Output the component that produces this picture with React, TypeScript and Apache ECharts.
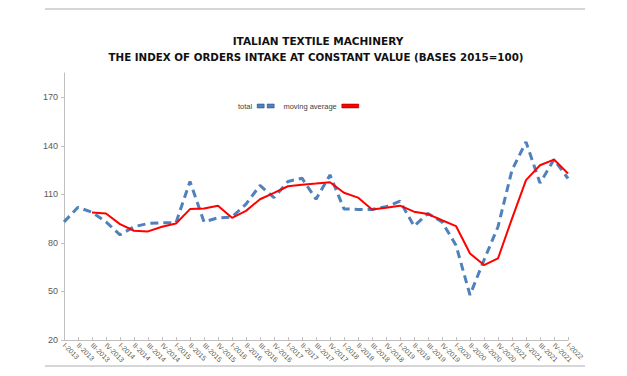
import React, { useEffect, useRef } from "react";
import * as echarts from "echarts";

const years = [2013, 2014, 2015, 2016, 2017, 2018, 2019, 2020, 2021];
const quarters = ["I", "II", "III", "IV"];
const categories: string[] = [];
years.forEach((y) => quarters.forEach((q) => categories.push(`${q}-${y}`)));
categories.push("I-2022");

const total = [
  93, 102, 99, 93, 85, 90, 92, 92.5, 92.5, 118, 93, 95.5, 96, 104, 115.5, 108,
  118, 120, 107, 122, 101, 100.7, 100.7, 102.3, 105.8, 90.4, 98.2, 93, 78.6,
  47.8, 69.4, 90, 125, 142.4, 117, 131.5, 119.8,
];

const movingAverage = [
  null, null, 98.8, 98.2, 91.6, 87.5, 87.1, 90, 92, 100.9, 101.3, 103, 95.5,
  99.8, 107, 110.9, 115, 116, 116.7, 117.5, 111, 108, 100.7, 101.7, 103, 99.3,
  97.8, 94, 90.4, 73.5, 66.3, 70.4, 95, 118.8, 128, 131.5, 122.9,
];

const yTicks = [20, 50, 80, 110, 140, 170];

const titleLine1 = "ITALIAN TEXTILE MACHINERY";
const titleLine2 = "THE INDEX OF ORDERS INTAKE AT CONSTANT VALUE (BASES 2015=100)";

export default function App() {
  const ref = useRef<HTMLDivElement>(null);
  useEffect(() => {
    if (!ref.current) return;
    const chart = echarts.init(ref.current, null, { renderer: "svg" });
    const font = "'Liberation Sans', Arial, sans-serif";
    chart.setOption({
      animation: false,
      backgroundColor: "#ffffff",
      textStyle: { fontFamily: font },
      grid: { left: 64, right: 59, top: 73, bottom: 36, containLabel: false },
      legend: {
        left: 233,
        top: 97,
        align: "right",
        itemWidth: 17,
        itemHeight: 4,
        itemGap: 9,
        textStyle: { fontSize: 7.5, color: "#404040", fontFamily: font },
        data: [
          {
            name: "total",
            icon: "path://M0,0h7v4h-7z M10,0h7v4h-7z",
            itemStyle: { color: "#4f81bd", borderColor: "#1f3f6f", borderWidth: 0.5 },
          },
          {
            name: "moving average",
            icon: "rect",
            itemStyle: { color: "#ff0000", borderColor: "#7a0000", borderWidth: 0.5 },
          },
        ],
      },
      xAxis: {
        type: "category",
        data: categories,
        boundaryGap: false,
        axisLine: { lineStyle: { color: "#bfbfbf", width: 1 } },
        axisTick: { inside: true, length: 3, interval: 0, lineStyle: { color: "#bfbfbf" } },
        axisLabel: {
          interval: 0,
          rotate: -45,
          fontSize: 7,
          color: "#595959",
          margin: 4,
          fontFamily: font,
        },
        splitLine: { show: false },
      },
      yAxis: {
        type: "value",
        min: 20,
        max: 185,
        axisLine: { show: true, lineStyle: { color: "#bfbfbf", width: 1 } },
        axisTick: { show: true, length: 3, customValues: yTicks, lineStyle: { color: "#bfbfbf" } },
        axisLabel: {
          customValues: yTicks,
          fontSize: 9,
          color: "#595959",
          margin: 6,
          fontFamily: font,
        },
        splitLine: { show: false },
      },
      series: [
        {
          name: "total",
          type: "line",
          data: total,
          symbol: "none",
          showSymbol: false,
          lineStyle: { color: "#4f81bd", width: 3, type: [8, 5] },
          itemStyle: { color: "#4f81bd" },
          z: 2,
        },
        {
          name: "moving average",
          type: "line",
          data: movingAverage,
          symbol: "none",
          showSymbol: false,
          connectNulls: false,
          lineStyle: { color: "#ff0000", width: 2 },
          itemStyle: { color: "#ff0000" },
          z: 3,
        },
      ],
      graphic: [
        {
          type: "line",
          shape: { x1: 45, y1: 9, x2: 585, y2: 9 },
          style: { stroke: "#c8c8c8", lineWidth: 1.5 },
        },
        {
          type: "line",
          shape: { x1: 45, y1: 366, x2: 585, y2: 366 },
          style: { stroke: "#c8c8c8", lineWidth: 1.5 },
        },
        {
          type: "text",
          x: 318,
          y: 41,
          style: {
            text: titleLine1,
            fontSize: 10.5,
            fontWeight: "bold",
            fontFamily: "'DejaVu Sans', sans-serif",
            fill: "#111111",
            textAlign: "center",
            textVerticalAlign: "middle",
          },
        },
        {
          type: "text",
          x: 316,
          y: 57,
          style: {
            text: titleLine2,
            fontSize: 10.3,
            fontWeight: "bold",
            fontFamily: "'DejaVu Sans', sans-serif",
            fill: "#111111",
            textAlign: "center",
            textVerticalAlign: "middle",
          },
        },
      ],
    });
    return () => chart.dispose();
  }, []);
  return (
    <div
      ref={ref}
      style={{ position: "absolute", left: 0, top: 0, width: 627, height: 376 }}
    />
  );
}
